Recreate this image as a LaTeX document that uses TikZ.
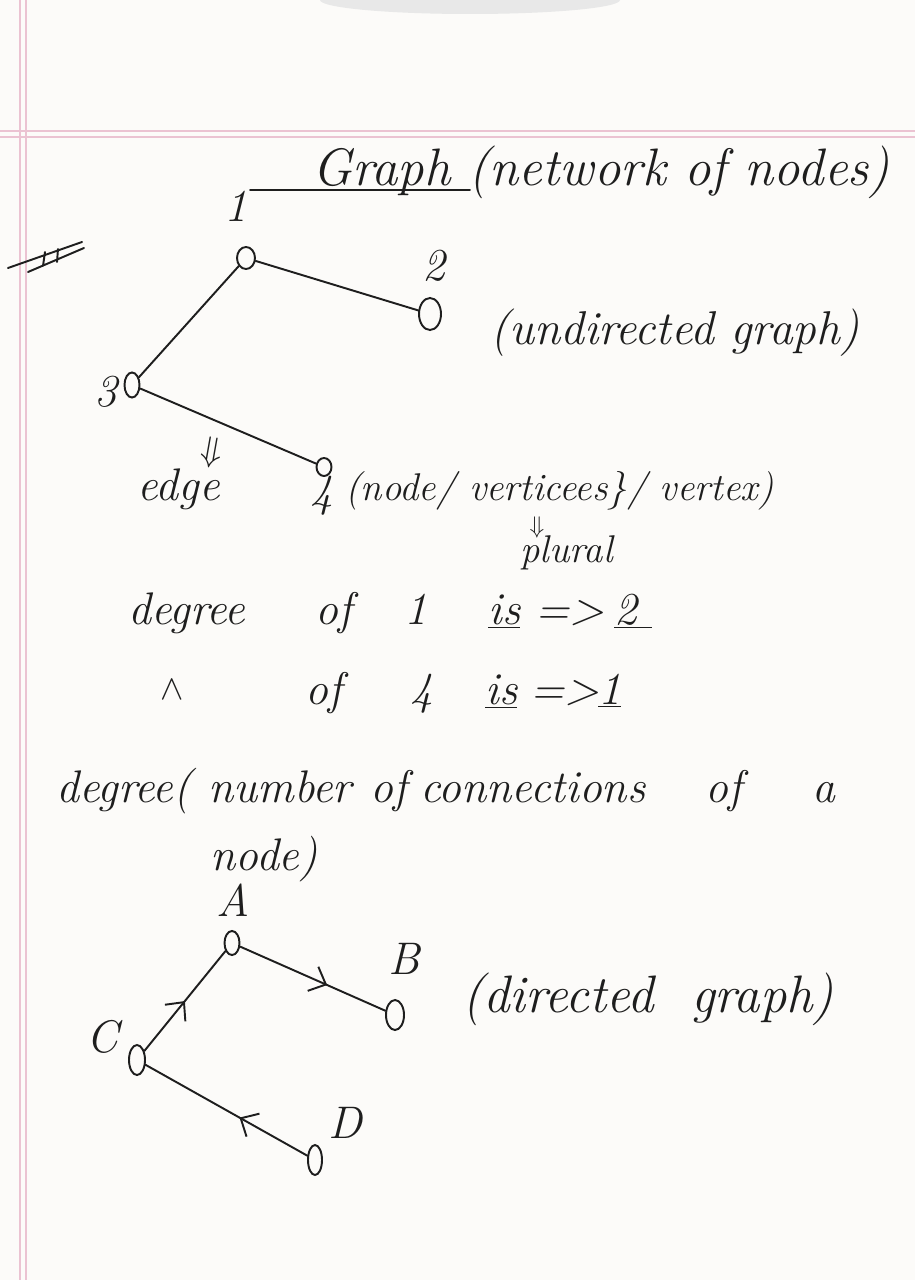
\documentclass[tikz,border=0pt]{standalone}
\usepackage{tikz}
\usetikzlibrary{arrows.meta,positioning,shapes.geometric,decorations.markings}
\definecolor{noteInk}{HTML}{1E1E1E}
\definecolor{notePink}{HTML}{EBC3D2}
\definecolor{notePaper}{HTML}{FCFBF9}

\begin{document}
\begin{tikzpicture}[x=0.02cm,y=-0.02cm,
    font=\fontsize{26}{30}\selectfont\itshape,text=noteInk,
    vtx/.style={draw=noteInk,ellipse,line width=1.1pt,inner sep=0pt,
                minimum width=0.34cm,minimum height=0.48cm},
    wrd/.style={inner sep=0pt,anchor=base west},
    pen/.style={draw=noteInk,line width=1.1pt,line cap=round},
    dirEdge/.style={pen,postaction={decorate},
      decoration={markings,mark=at position #1 with
        {\arrow{Straight Barb[length=8pt,width=15pt,line width=1.1pt]}}}},
    dirEdge/.default=0.55]
  % page
  \fill[notePaper] (0,0) rectangle (915,1280);
  \useasboundingbox (0,0) rectangle (915,1280);
  \fill[gray!18] (470,0) ellipse (150 and 14);
  \draw[notePink,line width=0.8pt] (0,131) -- (915,131) (0,137) -- (915,137);
  \draw[notePink,line width=0.8pt] (20,0) -- (20,1280) (26,0) -- (26,1280);

  % heading
  \node[wrd,font=\fontsize{30}{34}\selectfont\itshape] (title) at (312,186)
       {Graph (network of nodes)};
  \draw[pen] (250,190) -- (470,190);
  \draw[pen] (8,268) -- (82,242) (28,272) -- (84,248)
             (45,252) -- (43,266) (58,249) -- (57,262);

  % undirected graph
  \node[vtx,minimum width=0.36cm,minimum height=0.44cm] (n1) at (246,258) {};
  \node[vtx,minimum width=0.44cm,minimum height=0.64cm] (n2) at (430,314) {};
  \node[vtx,minimum width=0.3cm,minimum height=0.5cm] (n3) at (132,385) {};
  \node[vtx,minimum width=0.3cm,minimum height=0.36cm] (n4) at (324,467) {};
  \draw[pen] (n1) -- (n2);
  \draw[pen] (n1) -- (n3);
  \draw[pen] (n3) -- (n4);
  \node[wrd] (l1) at (224,222) {1};
  \node[wrd] (l2) at (422,280) {2};
  \node[wrd] (l3) at (94,406) {3};
  \node[wrd] (l4) at (310,506) {4};
  \node[wrd,font=\fontsize{27}{32}\selectfont\itshape] (undir) at (490,344)
       {(undirected graph)};
  \node[rotate=-10,scale=0.8] (eq1) at (212,453) {$\Downarrow$};
  \node[wrd] (edgeTxt) at (137,500) {edge};
  \node[wrd,font=\fontsize{22}{26}\selectfont\itshape] (vtxTxt) at (345,500)
       {(node/ verticees\}/ vertex)};
  \node[scale=0.55] (eq2) at (537,527) {$\Downarrow$};
  \node[wrd,font=\fontsize{22}{26}\selectfont\itshape] (plural) at (520,562) {plural};

  % degree rows
  \node[wrd] (deg) at (128,624) {degree};
  \node[wrd] (ofA) at (315,624) {of};
  \node[wrd] (oneA) at (404,624) {1};
  \node[wrd] (isA) at (488,624) {\underline{is}};
  \node[wrd] (impA) at (535,624) {=>};
  \node[wrd] (twoA) at (614,624) {\underline{2\,\,}};
  \node[scale=0.8] (ditto) at (172,690) {$\wedge$};
  \node[wrd] (ofB) at (305,704) {of};
  \node[wrd] (fourB) at (410,704) {4};
  \node[wrd] (isB) at (485,704) {\underline{is}};
  \node[wrd] (impB) at (530,704) {=>};
  \node[wrd] (oneB) at (598,704) {\underline{1}};

  % definition
  \node[wrd] (w1) at (56,802) {degree(};
  \node[wrd] (w2) at (208,802) {number};
  \node[wrd] (w3) at (370,802) {of};
  \node[wrd] (w4) at (420,802) {connections};
  \node[wrd] (w5) at (705,802) {of};
  \node[wrd] (w6) at (812,802) {a};
  \node[wrd] (w7) at (210,870) {node)};

  % directed graph
  \node[vtx,minimum width=0.3cm,minimum height=0.48cm] (nA) at (232,943) {};
  \node[vtx,minimum width=0.36cm,minimum height=0.6cm] (nB) at (395,1015) {};
  \node[vtx,minimum width=0.32cm,minimum height=0.6cm] (nC) at (137,1060) {};
  \node[vtx,minimum width=0.28cm,minimum height=0.6cm] (nD) at (315,1160) {};
  \draw[dirEdge=0.6] (nA) -- (nB);
  \draw[dirEdge=0.5] (nC) -- (nA);
  \draw[dirEdge=0.42] (nD) -- (nC);
  \node[wrd] (lA) at (216,916) {A};
  \node[wrd] (lB) at (388,974) {B};
  \node[wrd] (lC) at (86,1052) {C};
  \node[wrd] (lD) at (328,1138) {D};
  \node[wrd,font=\fontsize{30}{34}\selectfont\itshape] (dirTxt) at (462,1012)
       {(directed \ graph)};
\end{tikzpicture}
\end{document}
